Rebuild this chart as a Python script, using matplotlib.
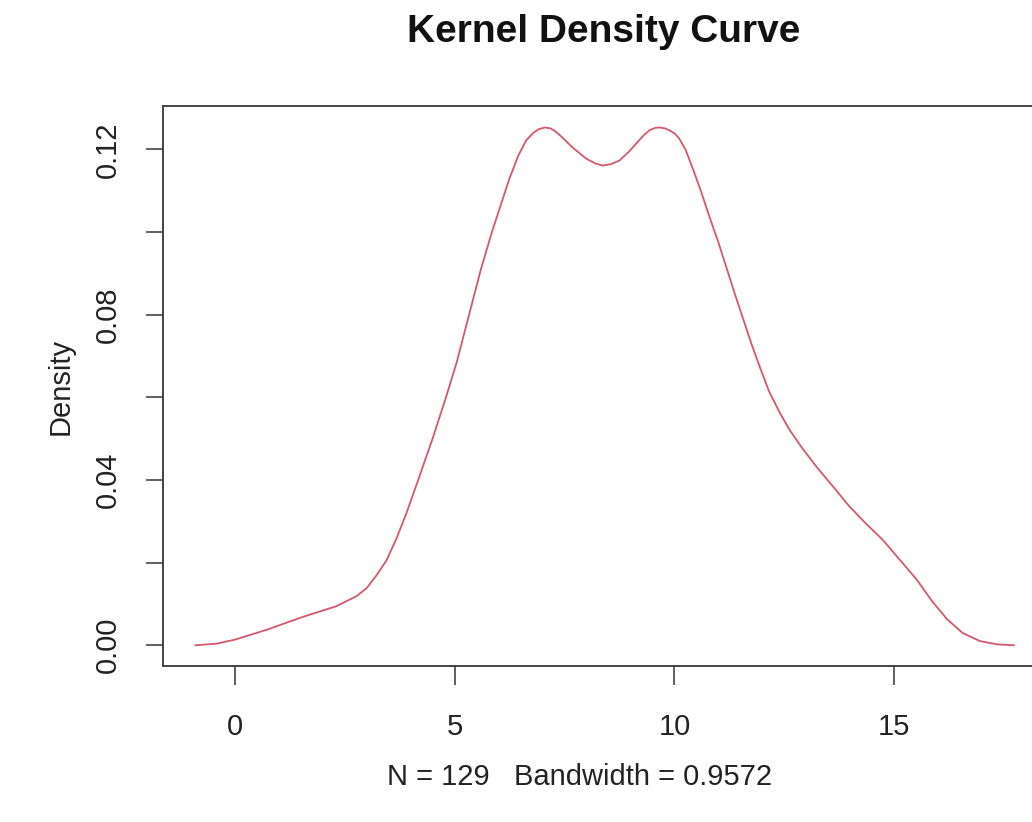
import matplotlib
matplotlib.use("Agg")
import matplotlib.pyplot as plt

# Density curve values
x_vals = [-0.89, -0.40, 0.02, 0.77, 1.53, 2.30, 2.76, 3.00, 3.21, 3.45, 3.67, 3.90,
          4.19, 4.50, 4.80, 5.05, 5.33, 5.60, 5.85, 6.05, 6.25, 6.45, 6.63, 6.80,
          6.92, 7.05, 7.18, 7.30, 7.45, 7.68, 7.99, 8.20, 8.36, 8.55, 8.75, 8.97,
          9.13, 9.30, 9.43, 9.56, 9.66, 9.78, 9.89, 10.01, 10.11, 10.25, 10.41, 10.60,
          10.80, 11.00, 11.18, 11.36, 11.55, 11.75, 11.94, 12.15, 12.40, 12.62, 12.90,
          13.23, 13.60, 13.98, 14.35, 14.73, 15.10, 15.51, 15.85, 16.20, 16.55, 16.95,
          17.35, 17.72]
y_vals = [0.0000, 0.0004, 0.0014, 0.0039, 0.0068, 0.0094, 0.0118, 0.0138, 0.0167, 0.0205,
          0.0256, 0.0318, 0.0405, 0.0500, 0.0598, 0.0685, 0.0800, 0.0910, 0.1000, 0.1065,
          0.1130, 0.1185, 0.1222, 0.1241, 0.1249, 0.1253, 0.1251, 0.1243, 0.1229, 0.1205,
          0.1178, 0.1166, 0.1161, 0.1164, 0.1173, 0.1195, 0.1214, 0.1234, 0.1246, 0.1252,
          0.1253, 0.1251, 0.1246, 0.1238, 0.1226, 0.1200, 0.1156, 0.1100, 0.1036, 0.0975,
          0.0915, 0.0855, 0.0794, 0.0730, 0.0674, 0.0615, 0.0562, 0.0521, 0.0478, 0.0432,
          0.0385, 0.0336, 0.0295, 0.0256, 0.0210, 0.0159, 0.0108, 0.0063, 0.0030, 0.0010,
          0.0002, 0.0000]

x_ticks = [0, 5, 10, 15]
y_ticks = [0.00, 0.02, 0.04, 0.06, 0.08, 0.10, 0.12]
y_tick_labels = ["0.00", "", "0.04", "", "0.08", "", "0.12"]

title = "Kernel Density Curve"
x_label = "N = 129   Bandwidth = 0.9572"
y_label = "Density"

plt.rcParams['font.family'] = ['Liberation Sans', 'DejaVu Sans']

W, H = 1032, 822
fig = plt.figure(figsize=(W / 100, H / 100), dpi=100)
fig.patch.set_facecolor("white")

left, right, top, bottom = 163, 1046, 106, 666
ax = fig.add_axes([left / W, 1 - bottom / H, (right - left) / W, (bottom - top) / H])

ax.plot(x_vals, y_vals, color="#D8566C", lw=1.3, solid_joinstyle="round")

ax.set_xlim(-1.63, 18.45)
ax.set_ylim(-0.00502, 0.1305)

edge = "#444444"
for s in ax.spines.values():
    s.set_color(edge)
    s.set_linewidth(1.4)

ax.set_xticks(x_ticks)
ax.set_xticklabels([str(t) for t in x_ticks])
ax.set_yticks(y_ticks)
ax.set_yticklabels(y_tick_labels, rotation=90, va="center")

ax.tick_params(axis="x", length=14, width=1.2, color=edge, pad=20, labelsize=21, labelcolor="#222222")
ax.tick_params(axis="y", length=12.5, width=1.2, color=edge, pad=17, labelsize=21, labelcolor="#222222")

fig.text(604 / W, 1 - 32 / H, title, ha="center", va="center",
         fontsize=28, fontweight="bold", color="#111111")
fig.text(580 / W, 1 - 777 / H, x_label, ha="center", va="center",
         fontsize=21, color="#222222")
fig.text(61 / W, 1 - 386 / H, y_label, ha="center", va="center", rotation=90,
         fontsize=21, color="#222222")

fig.savefig("out.png", dpi=100, facecolor="white")
